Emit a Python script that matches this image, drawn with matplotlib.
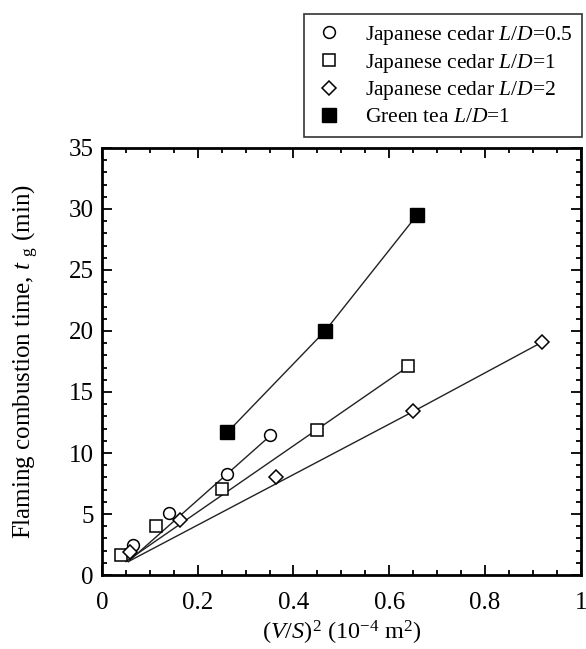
import matplotlib
matplotlib.use('Agg')
import matplotlib.pyplot as plt
from matplotlib.ticker import MultipleLocator

plt.rcParams['font.family'] = ['Liberation Serif', 'DejaVu Serif']
plt.rcParams['mathtext.fontset'] = 'custom'
plt.rcParams['mathtext.rm'] = 'Liberation Serif'
plt.rcParams['mathtext.it'] = 'Liberation Serif:italic'

# Japanese cedar L/D=0.5
x_c05 = [0.064, 0.140, 0.262, 0.351]
y_c05 = [2.46, 5.1, 8.28, 11.48]
fit_x_c05 = [0.055, 0.351]
fit_y_c05 = [1.1, 11.4]

# Japanese cedar L/D=1
x_c1 = [0.039, 0.113, 0.250, 0.450, 0.640]
y_c1 = [1.64, 4.0, 7.02, 11.9, 17.1]
fit_x_c1 = [0.05, 0.640]
fit_y_c1 = [1.1, 17.1]

# Japanese cedar L/D=2
x_c2 = [0.058, 0.163, 0.363, 0.650, 0.920]
y_c2 = [1.91, 4.5, 8.06, 13.47, 19.1]
fit_x_c2 = [0.055, 0.650, 0.920]
fit_y_c2 = [1.1, 13.4, 19.1]

# Green tea L/D=1
x_gt = [0.262, 0.466, 0.658]
y_gt = [11.7, 20.0, 29.5]

xticks = [0, 0.2, 0.4, 0.6, 0.8, 1.0]
xticklabels = ['0', '0.2', '0.4', '0.6', '0.8', '1']

labels = ['Japanese cedar $\\mathit{L/D}$=0.5',
          'Japanese cedar $\\mathit{L/D}$=1',
          'Japanese cedar $\\mathit{L/D}$=2',
          'Green tea $\\mathit{L/D}$=1']

fig = plt.figure(figsize=(5.86, 6.49), dpi=100)
ax = fig.add_axes([0.174, 0.114, 0.817, 0.658])

# fit lines
for fx, fy in [(fit_x_c05, fit_y_c05), (fit_x_c1, fit_y_c1), (fit_x_c2, fit_y_c2), (x_gt, y_gt)]:
    ax.plot(fx, fy, color='#222222', lw=1.0, zorder=2)

h1, = ax.plot(x_c05, y_c05, 'o', ms=8.5, mfc='white', mec='black', mew=1.1, ls='none', zorder=3)
h2, = ax.plot(x_c1, y_c1, 's', ms=9, mfc='white', mec='black', mew=1.1, ls='none', zorder=3)
h3, = ax.plot(x_c2, y_c2, 'D', ms=7.5, mfc='white', mec='black', mew=1.1, ls='none', zorder=3)
h4, = ax.plot(x_gt, y_gt, 's', ms=9.5, mfc='black', mec='black', ls='none', zorder=3)

ax.set_xlim(0, 1)
ax.set_ylim(0, 35)
ax.xaxis.set_minor_locator(MultipleLocator(0.05))
ax.yaxis.set_major_locator(MultipleLocator(5))
ax.yaxis.set_minor_locator(MultipleLocator(1))
ax.set_xticks(xticks)
ax.set_xticklabels(xticklabels)
ax.tick_params(which='both', direction='in', top=True, right=True, labelsize=18, width=1.3)
ax.tick_params(which='major', length=7.5)
ax.tick_params(which='minor', length=3.8)
ax.tick_params(axis='x', which='major', pad=12)
ax.tick_params(axis='y', which='major', pad=6)
for sp in ax.spines.values():
    sp.set_linewidth(2)

ax.set_xlabel('($\\mathit{V/S}$)$^2$ (10$^{-4}$ m$^2$)', fontsize=17.5, labelpad=4)
ax.set_ylabel('Flaming combustion time, $\\mathit{t}$ $_{\\rm g}$ (min)', fontsize=18, labelpad=20)

leg = fig.legend([h1, h2, h3, h4], labels, loc='upper right',
                 bbox_to_anchor=(0.993, 0.978), fontsize=15.5, frameon=True,
                 fancybox=False, handletextpad=0.9, borderpad=0.45,
                 labelspacing=0.22, handlelength=1.5, borderaxespad=0)
leg.get_frame().set_edgecolor('black')
leg.get_frame().set_linewidth(1.2)

fig.savefig('out.png', dpi=100)
